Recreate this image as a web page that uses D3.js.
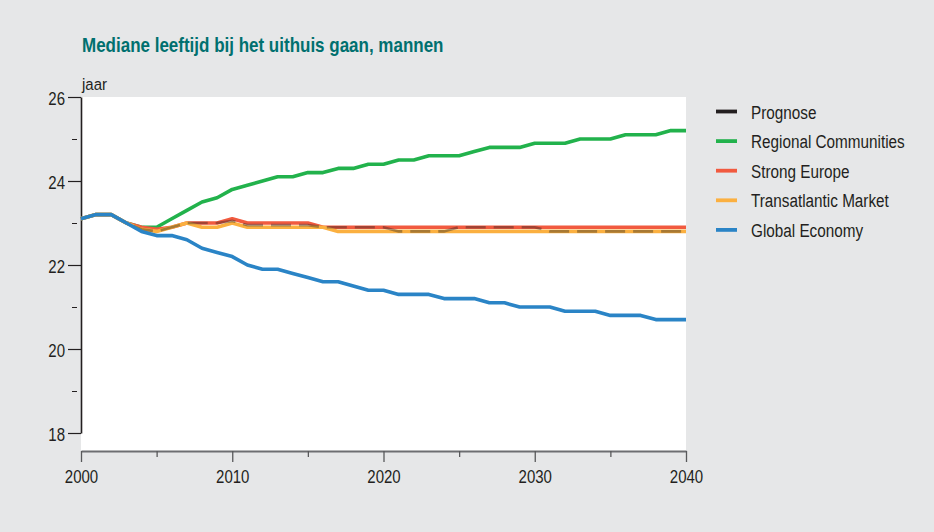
<!DOCTYPE html>
<html>
<head>
<meta charset="utf-8">
<script src="https://cdn.jsdelivr.net/npm/d3@7"></script>
<style>
    body { margin: 0; background: #e6e7e8; }
    svg { display: block; font-family: "Liberation Sans", Arial, sans-serif; }
</style>
</head>
<body>
<div class="container"></div>
<script>
// jaren 2000 - 2040
let years = d3.range(2000, 2041);

let prognose = [23.1, 23.2, 23.2, 23.0, 22.85, 22.8, 22.9, 23.0, 23.0, 23.0,
    23.05, 22.95, 22.95, 22.95, 22.95, 22.95, 22.9, 22.9, 22.9, 22.9,
    22.9, 22.8, 22.8, 22.8, 22.8, 22.9, 22.9, 22.9, 22.9, 22.9,
    22.9, 22.8, 22.8, 22.8, 22.8, 22.8, 22.8, 22.8, 22.8, 22.8,
    22.8];
let regional = [23.1, 23.2, 23.2, 23.0, 22.9, 22.9, 23.1, 23.3, 23.5, 23.6,
    23.8, 23.9, 24.0, 24.1, 24.1, 24.2, 24.2, 24.3, 24.3, 24.4,
    24.4, 24.5, 24.5, 24.6, 24.6, 24.6, 24.7, 24.8, 24.8, 24.8,
    24.9, 24.9, 24.9, 25.0, 25.0, 25.0, 25.1, 25.1, 25.1, 25.2,
    25.2];
let strong = [23.1, 23.2, 23.2, 23.0, 22.9, 22.85, 22.9, 23.0, 23.0, 23.0,
    23.1, 23.0, 23.0, 23.0, 23.0, 23.0, 22.9, 22.9, 22.9, 22.9,
    22.9, 22.9, 22.9, 22.9, 22.9, 22.9, 22.9, 22.9, 22.9, 22.9,
    22.9, 22.9, 22.9, 22.9, 22.9, 22.9, 22.9, 22.9, 22.9, 22.9,
    22.9];
let transatlantic = [23.1, 23.2, 23.2, 23.0, 22.85, 22.8, 22.9, 23.0, 22.9, 22.9,
    23.0, 22.9, 22.9, 22.9, 22.9, 22.9, 22.9, 22.8, 22.8, 22.8,
    22.8, 22.8, 22.8, 22.8, 22.8, 22.8, 22.8, 22.8, 22.8, 22.8,
    22.8, 22.8, 22.8, 22.8, 22.8, 22.8, 22.8, 22.8, 22.8, 22.8,
    22.8];
let global = [23.1, 23.2, 23.2, 23.0, 22.8, 22.7, 22.7, 22.6, 22.4, 22.3,
    22.2, 22.0, 21.9, 21.9, 21.8, 21.7, 21.6, 21.6, 21.5, 21.4,
    21.4, 21.3, 21.3, 21.3, 21.2, 21.2, 21.2, 21.1, 21.1, 21.0,
    21.0, 21.0, 20.9, 20.9, 20.9, 20.8, 20.8, 20.8, 20.7, 20.7,
    20.7];

let yTicks = [18, 20, 22, 24, 26],
    yMinor = [19, 21, 23, 25],
    xTicks = [2000, 2010, 2020, 2030, 2040],
    xMinor = [2005, 2015, 2025, 2035];

let legendNames = ["Prognose", "Regional Communities", "Strong Europe", "Transatlantic Market", "Global Economy"];
let legendColors = ["#231f20", "#22b24c", "#f15a3f", "#fbb040", "#2a84c6"];

let width = 934,
    height = 532;

let svg = d3.select(".container").append("svg")
    .attr("width", width)
    .attr("height", height);

let plot = {left: 81, right: 686, top: 97, bottom: 451};
let stretch = 1.28; // tekst in het origineel is verticaal uitgerekt

let x = d3.scaleLinear().domain([2000, 2040]).range([plot.left, plot.right]);
let y = d3.scaleLinear().domain([18, 26]).range([433, plot.top]);

svg.append("rect")
    .attr("width", width)
    .attr("height", height)
    .attr("fill", "#e6e7e8");

svg.append("rect")
    .attr("x", plot.left)
    .attr("y", plot.top)
    .attr("width", plot.right - plot.left)
    .attr("height", plot.bottom - plot.top)
    .attr("fill", "#ffffff");

// titel
svg.append("text")
    .attr("transform", "translate(82,52) scale(1,1.18)")
    .attr("fill", "#00706f")
    .attr("font-size", 17)
    .attr("font-weight", "bold")
    .text("Mediane leeftijd bij het uithuis gaan, mannen");

svg.append("text")
    .attr("transform", "translate(82,90) scale(1,1.15)")
    .attr("fill", "#231f20")
    .attr("font-size", 15)
    .text("jaar");

// y-as
let yAxis = svg.append("g")
    .attr("transform", "translate(" + plot.left + ",0)")
    .call(d3.axisLeft(y).tickValues(yTicks).tickSize(13).tickSizeOuter(0));
yAxis.select(".domain").attr("stroke", "#231f20").attr("stroke-width", 1.6);
yAxis.selectAll(".tick line").attr("stroke", "#231f20").attr("stroke-width", 1.2);
yAxis.selectAll(".tick text")
    .attr("x", null).attr("dy", null)
    .attr("transform", "translate(-16,7) scale(1," + stretch + ")")
    .attr("fill", "#231f20")
    .attr("font-size", 15);

let yAxisMinor = svg.append("g")
    .attr("transform", "translate(77,0)")
    .call(d3.axisLeft(y).tickValues(yMinor).tickSize(5).tickFormat(""));
yAxisMinor.select(".domain").remove();
yAxisMinor.selectAll(".tick line").attr("stroke", "#231f20").attr("stroke-width", 1);

// x-as
let xAxis = svg.append("g")
    .attr("transform", "translate(0," + plot.bottom + ")")
    .call(d3.axisBottom(x).tickValues(xTicks).tickSize(11).tickSizeOuter(0).tickFormat(d3.format("d")));
xAxis.select(".domain").attr("stroke", "#6d6e71").attr("stroke-width", 2);
xAxis.selectAll(".tick line").attr("stroke", "#58595b").attr("stroke-width", 1.3);
xAxis.selectAll(".tick text")
    .attr("y", null).attr("dy", null)
    .attr("transform", "translate(0,31.5) scale(1," + stretch + ")")
    .attr("fill", "#231f20")
    .attr("font-size", 15);

let xAxisMinor = svg.append("g")
    .attr("transform", "translate(0," + plot.bottom + ")")
    .call(d3.axisBottom(x).tickValues(xMinor).tickSize(6).tickFormat(""));
xAxisMinor.select(".domain").remove();
xAxisMinor.selectAll(".tick line").attr("stroke", "#58595b").attr("stroke-width", 1.3);

// lijnen
let line = d3.line()
    .x(function (d, i) {
        return x(years[i]);
    })
    .y(function (d) {
        return y(d);
    });

let series = [
    {values: regional, color: legendColors[1]},
    {values: strong, color: legendColors[2]},
    {values: transatlantic, color: legendColors[3]}
];

series.forEach(function (s) {
    svg.append("path")
        .datum(s.values)
        .attr("fill", "none")
        .attr("stroke", s.color)
        .attr("stroke-width", 3.6)
        .attr("stroke-linejoin", "round")
        .attr("d", line);
});

svg.append("path")
    .datum(prognose)
    .attr("fill", "none")
    .attr("stroke", legendColors[0])
    .attr("stroke-opacity", 0.38)
    .attr("stroke-width", 2.6)
    .attr("stroke-dasharray", "20,8")
    .attr("d", line);

svg.append("path")
    .datum(global)
    .attr("fill", "none")
    .attr("stroke", legendColors[4])
    .attr("stroke-width", 3.6)
    .attr("stroke-linejoin", "round")
    .attr("d", line);

// legenda
let legend = svg.append("g")
    .selectAll("g")
    .data(legendNames)
    .enter()
    .append("g")
    .attr("transform", function (d, i) {
        return "translate(716," + (111.5 + i * 29.6) + ")";
    });

legend.append("line")
    .attr("x1", 0)
    .attr("x2", 21)
    .attr("stroke", function (d, i) {
        return legendColors[i];
    })
    .attr("stroke-width", 3.8);

legend.append("text")
    .attr("transform", "translate(35,7) scale(1,1.2)")
    .attr("fill", "#231f20")
    .attr("font-size", 15.3)
    .text(function (d) {
        return d;
    });
</script>
</body>
</html>
